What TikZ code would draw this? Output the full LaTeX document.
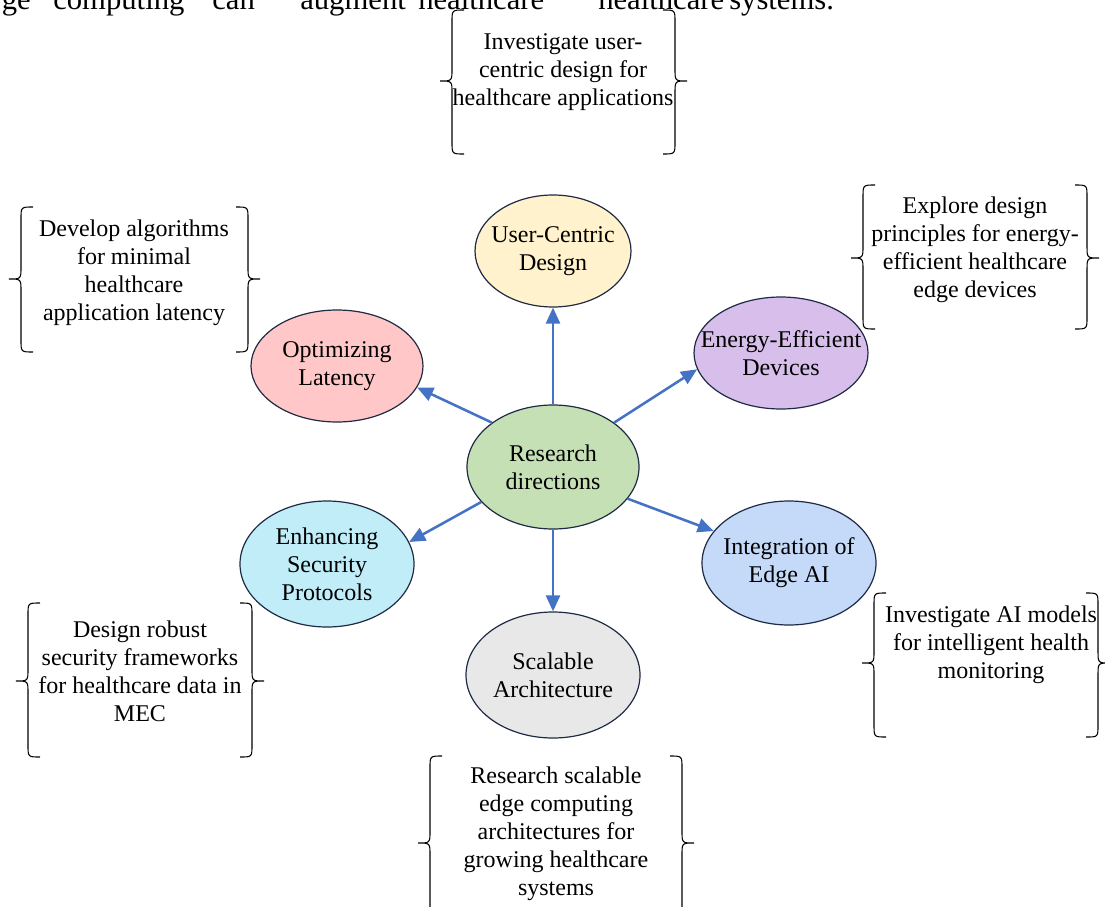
\documentclass[tikz,border=0pt]{standalone}
\usepackage{fontspec}
\setmainfont{Liberation Serif}
\usetikzlibrary{arrows.meta,shapes.geometric}
\definecolor{edgec}{HTML}{1F2A44}
\definecolor{arrc}{HTML}{4472C4}
\definecolor{cuc}{HTML}{FFF2CC}
\definecolor{copt}{HTML}{FFC7C7}
\definecolor{cen}{HTML}{D8BFEB}
\definecolor{cres}{HTML}{C5E0B4}
\definecolor{csec}{HTML}{C0EDF8}
\definecolor{cai}{HTML}{C5DAF8}
\definecolor{csc}{HTML}{E8E8E8}
\newcommand\BrL[4]{\draw[brc] (#1+12,#2) .. controls (#1,#2) .. (#1,#2+12) -- (#1,#3-12) .. controls (#1,#3) .. (#1-12,#3) .. controls (#1,#3) .. (#1,#3+12) -- (#1,#4-12) .. controls (#1,#4) .. (#1+12,#4);}
\newcommand\BrR[4]{\draw[brc] (#1-12,#2) .. controls (#1,#2) .. (#1,#2+12) -- (#1,#3-12) .. controls (#1,#3) .. (#1+12,#3) .. controls (#1,#3) .. (#1,#3+12) -- (#1,#4-12) .. controls (#1,#4) .. (#1-12,#4);}
\begin{document}
\begin{tikzpicture}[x=0.75pt,y=-0.75pt,
  bub/.style 2 args={ellipse, draw=edgec, line width=0.9pt, inner sep=0pt, minimum width=#1*1.5pt, minimum height=#2*1.5pt},
  txt/.style={align=center, font=\fontsize{18}{21}\selectfont, inner sep=0pt},
  pg/.style={font=\fontsize{23}{27}\selectfont, inner sep=0pt},
  arr/.style={draw=arrc, line width=1.9pt, -{Triangle[length=12pt,width=10.5pt]}},
  brc/.style={draw=black, line width=0.8pt}]
\useasboundingbox (0,0) rectangle (1105,906);
\clip (0,0) rectangle (1105,906);
% page text fragment at the top (cut off by the picture's edge)
\node[pg, anchor=base east] (p1) at (31,10) {ge};
\node[pg, anchor=base west] (p2) at (53,10) {computing};
\node[pg, anchor=base west] (p3) at (212,10) {can};
\node[pg, anchor=base west] (p4) at (300,10) {augment};
\node[pg, anchor=base west] (p5) at (418,10) {healthcare};
\node[pg, anchor=base west] (p6) at (598,10) {healthcare};
\node[pg, anchor=base west] (p7) at (729,10) {systems.};
% ellipses
\node[bub={78}{56}, fill=cuc] (uc) at (553,251) {};
\node[bub={86}{56}, fill=copt] (opt) at (337,366) {};
\node[bub={87}{56}, fill=cen] (en) at (781,353) {};
\node[bub={86}{62}, fill=cres] (res) at (553,467) {};
\node[bub={87}{63}, fill=csec] (sec) at (327,564) {};
\node[bub={87}{62}, fill=cai] (ai) at (789,563) {};
\node[bub={87}{63}, fill=csc] (sc) at (553,675) {};
\node[txt] (tuc) at (uc) {User-Centric\\Design};
\node[txt] (topt) at (opt) {Optimizing\\Latency};
\node[txt] (ten) at (en) {Energy-Efficient\\Devices};
\node[txt] (tres) at (res) {Research\\directions};
\node[txt] (tsec) at (sec) {Enhancing\\Security\\Protocols};
\node[txt] (tai) at (ai) {Integration of\\Edge AI};
\node[txt] (tsc) at (sc) {Scalable\\Architecture};
% arrows
\draw[arr] (res.north) -- (uc.south);
\draw[arr] (res.144.5) -- (opt.-15);
\draw[arr] (res.36) -- (en.191);
\draw[arr] (res.206.6) -- (sec.15.5);
\draw[arr] (res.-23.7) -- (ai.157.8);
\draw[arr] (res.south) -- (sc.north);
% braces
\BrL{452}{10}{81}{154}\BrR{675}{10}{81}{154}
\BrL{21}{207}{279}{352}\BrR{248}{207}{279}{352}
\BrL{863}{185}{258}{329}\BrR{1087}{185}{258}{329}
\BrL{28}{603}{681}{757}\BrR{252}{603}{681}{757}
\BrL{874}{593}{663}{737}\BrR{1098}{593}{663}{737}
\BrL{430}{756}{843}{930}\BrR{682}{756}{843}{930}
% brace texts
\node[txt] (b1) at (563,72) {Investigate user-\\centric design for\\healthcare applications};
\node[txt] (b2) at (134,273) {Develop algorithms\\for minimal\\healthcare\\application latency};
\node[txt] (b3) at (975,250) {Explore design\\principles for energy-\\efficient healthcare\\edge devices};
\node[txt] (b4) at (140,671) {Design robust\\security frameworks\\for healthcare data in\\MEC};
\node[txt] (b5) at (991,645) {Investigate AI models\\for intelligent health\\monitoring};
\node[txt] (b6) at (556,834) {Research scalable\\edge computing\\architectures for\\growing healthcare\\systems};
\end{tikzpicture}
\end{document}
